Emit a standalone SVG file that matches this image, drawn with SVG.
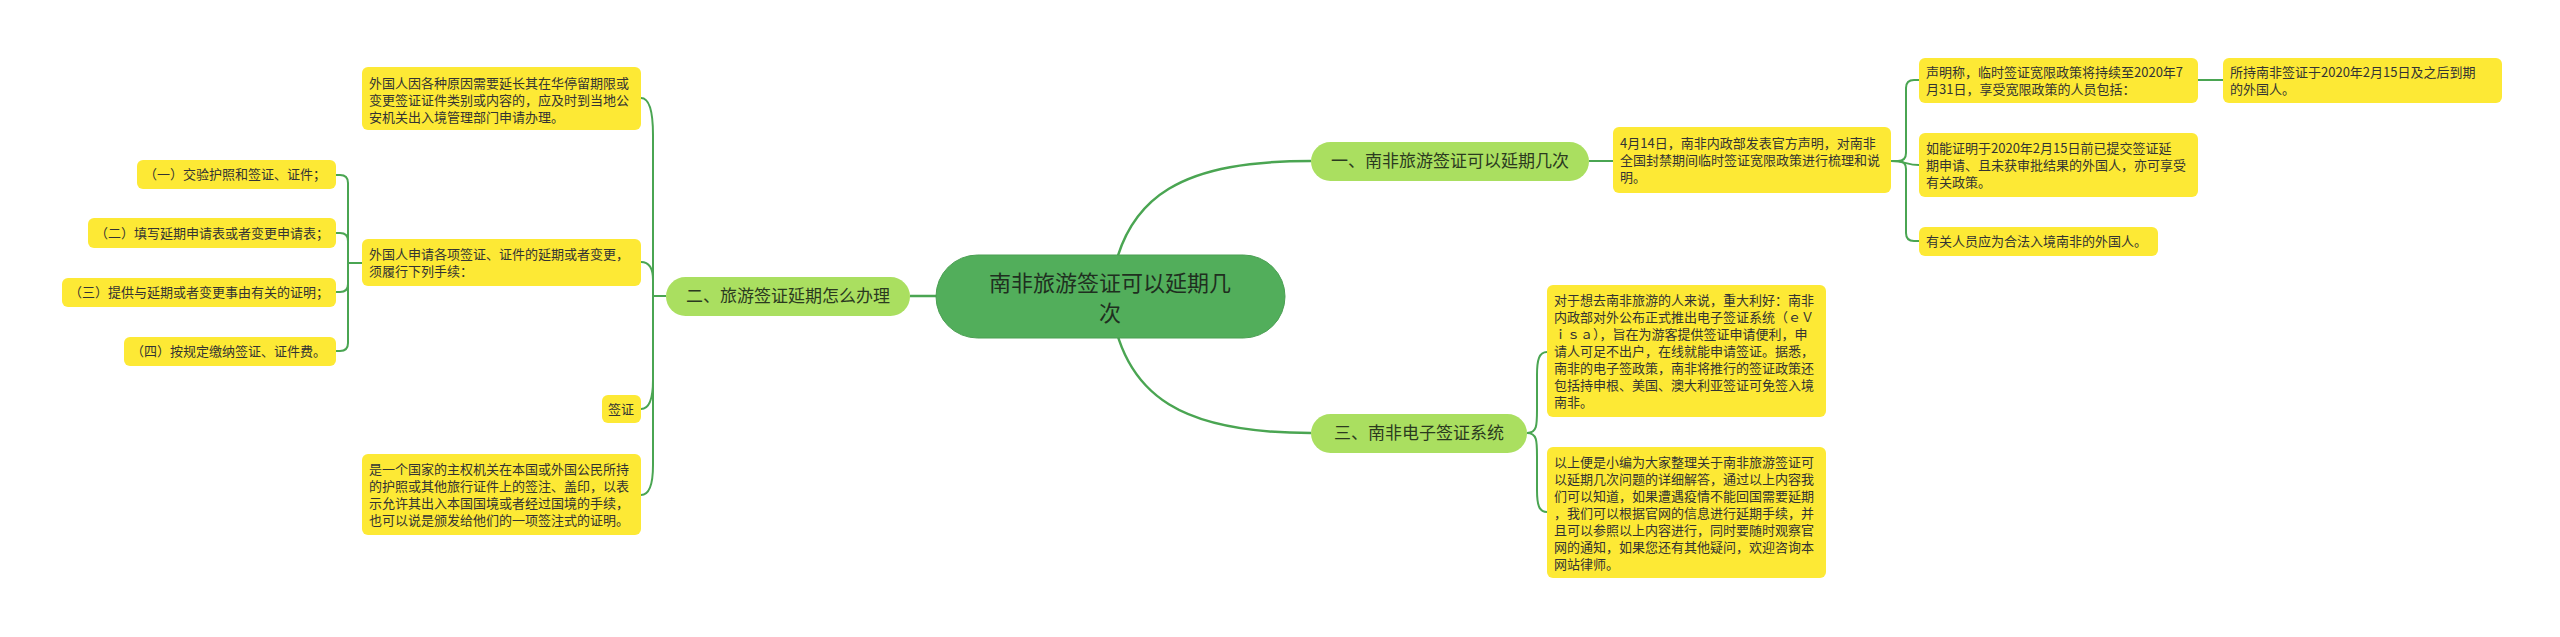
<svg xmlns="http://www.w3.org/2000/svg" width="2560" height="637" viewBox="0 0 2560 637">
<style>
.c{fill:none;stroke:#4aa552;stroke-width:2}
.cr{fill:none;stroke:#4aa552;stroke-width:2.5}
.y{fill:#fde935}
.t{font-family:"Noto Sans CJK SC","Noto Sans",sans-serif;font-size:13px;fill:#333}
.b{fill:#aadf60}
.bt{font-family:"Noto Sans CJK SC","Noto Sans",sans-serif;font-size:17px;fill:#2b3a1f;text-anchor:middle}
.rt{font-family:"Noto Sans CJK SC","Noto Sans",sans-serif;font-size:22px;fill:#1f2f1f;text-anchor:middle}
</style>
<rect width="2560" height="637" fill="#fff"/>
<g id="connectors">
<path class="cr" d="M1110,296 C1120,190 1190,161 1311,161"/>
<path class="cr" d="M1110,296 C1120,402 1190,433 1311,433"/>
<path class="cr" d="M1110,296 H910"/>
<path class="c" d="M1589,161 H1613"/>
<path class="c" d="M1891,161 H1898 Q1906,161 1906,153 V88 Q1906,80 1914,80 H1919"/>
<path class="c" d="M1891,161 C1906,161 1906,165 1919,165"/>
<path class="c" d="M1891,161 H1898 Q1906,161 1906,169 V233 Q1906,241 1914,241 H1919"/>
<path class="c" d="M2198,80 H2223"/>
<path class="c" d="M1527,433 C1537,433 1537,425 1537,410 V375 C1537,360 1539,352 1547,352"/>
<path class="c" d="M1527,433 C1537,433 1537,441 1537,456 V490 C1537,505 1539,512 1547,512"/>
<path class="c" d="M666,296 H653 V135 C653,112 650,98 641,98"/>
<path class="c" d="M666,296 H653 V280 C653,270 650,262 641,262"/>
<path class="c" d="M666,296 H653 V380 C653,398 650,409 641,409"/>
<path class="c" d="M666,296 H653 V465 C653,483 650,495 641,495"/>
<path class="c" d="M362,263 H348 V183 Q348,175 340,175 H336"/>
<path class="c" d="M362,263 H348 V241 Q348,233 340,233 H336"/>
<path class="c" d="M362,263 H348 V284 Q348,292 340,292 H336"/>
<path class="c" d="M362,263 H348 V343 Q348,351 340,351 H336"/>
</g>
<g id="root">
<rect x="936" y="255" width="349" height="83" rx="41.5" fill="#52ae5b" stroke="#4a9f52" stroke-width="1"/>
<text class="rt" x="1110" y="291">南非旅游签证可以延期几</text>
<text class="rt" x="1110" y="321">次</text>
</g>
<g id="b1">
<rect class="b" x="1311" y="142" width="278" height="39" rx="19.5"/>
<text class="bt" x="1450" y="167">一、南非旅游签证可以延期几次</text>
</g>
<g id="b2">
<rect class="b" x="666" y="277" width="244" height="39" rx="19.5"/>
<text class="bt" x="788" y="302">二、旅游签证延期怎么办理</text>
</g>
<g id="b3">
<rect class="b" x="1311" y="414" width="216" height="39" rx="19.5"/>
<text class="bt" x="1419" y="439">三、南非电子签证系统</text>
</g>
<g id="n414">
<rect class="y" x="1613" y="127" width="278" height="66" rx="6"/>
<text class="t" x="1620" y="147.5">4月14日，南非内政部发表官方声明，对南非</text>
<text class="t" x="1620" y="164.5">全国封禁期间临时签证宽限政策进行梳理和说</text>
<text class="t" x="1620" y="181.5">明。</text>
</g>
<g id="c1">
<rect class="y" x="1919" y="58" width="279" height="45" rx="6"/>
<text class="t" x="1926" y="76.5">声明称，临时签证宽限政策将持续至2020年7</text>
<text class="t" x="1926" y="93.5">月31日，享受宽限政策的人员包括：</text>
</g>
<g id="gc1">
<rect class="y" x="2223" y="58" width="279" height="45" rx="6"/>
<text class="t" x="2230" y="76.5">所持南非签证于2020年2月15日及之后到期</text>
<text class="t" x="2230" y="93.5">的外国人。</text>
</g>
<g id="c2">
<rect class="y" x="1919" y="133" width="279" height="64" rx="6"/>
<text class="t" x="1926" y="152.5">如能证明于2020年2月15日前已提交签证延</text>
<text class="t" x="1926" y="169.5">期申请、且未获审批结果的外国人，亦可享受</text>
<text class="t" x="1926" y="186.5">有关政策。</text>
</g>
<g id="c3">
<rect class="y" x="1919" y="227" width="239" height="29" rx="6"/>
<text class="t" x="1926" y="246">有关人员应为合法入境南非的外国人。</text>
</g>
<g id="a1">
<rect class="y" x="1547" y="285" width="279" height="132" rx="6"/>
<text class="t" x="1554" y="304.5">对于想去南非旅游的人来说，重大利好：南非</text>
<text class="t" x="1554" y="321.5">内政部对外公布正式推出电子签证系统（ｅＶ</text>
<text class="t" x="1554" y="338.5">ｉｓａ），旨在为游客提供签证申请便利，申</text>
<text class="t" x="1554" y="355.5">请人可足不出户，在线就能申请签证。据悉，</text>
<text class="t" x="1554" y="372.5">南非的电子签政策，南非将推行的签证政策还</text>
<text class="t" x="1554" y="389.5">包括持申根、美国、澳大利亚签证可免签入境</text>
<text class="t" x="1554" y="406.5">南非。</text>
</g>
<g id="a2">
<rect class="y" x="1547" y="447" width="279" height="131" rx="6"/>
<text class="t" x="1554" y="466.5">以上便是小编为大家整理关于南非旅游签证可</text>
<text class="t" x="1554" y="483.5">以延期几次问题的详细解答，通过以上内容我</text>
<text class="t" x="1554" y="500.5">们可以知道，如果遭遇疫情不能回国需要延期</text>
<text class="t" x="1554" y="517.5">，我们可以根据官网的信息进行延期手续，并</text>
<text class="t" x="1554" y="534.5">且可以参照以上内容进行，同时要随时观察官</text>
<text class="t" x="1554" y="551.5">网的通知，如果您还有其他疑问，欢迎咨询本</text>
<text class="t" x="1554" y="568.5">网站律师。</text>
</g>
<g id="l1">
<rect class="y" x="362" y="67" width="279" height="63" rx="6"/>
<text class="t" x="369" y="87.5">外国人因各种原因需要延长其在华停留期限或</text>
<text class="t" x="369" y="104.5">变更签证证件类别或内容的，应及时到当地公</text>
<text class="t" x="369" y="121.5">安机关出入境管理部门申请办理。</text>
</g>
<g id="l2">
<rect class="y" x="362" y="239" width="279" height="47" rx="6"/>
<text class="t" x="369" y="258.5">外国人申请各项签证、证件的延期或者变更，</text>
<text class="t" x="369" y="275.5">须履行下列手续：</text>
</g>
<g id="l3">
<rect class="y" x="602" y="395" width="39" height="28" rx="6"/>
<text class="t" x="608" y="413.5">签证</text>
</g>
<g id="l4">
<rect class="y" x="362" y="454" width="279" height="81" rx="6"/>
<text class="t" x="369" y="473.5">是一个国家的主权机关在本国或外国公民所持</text>
<text class="t" x="369" y="490.5">的护照或其他旅行证件上的签注、盖印，以表</text>
<text class="t" x="369" y="507.5">示允许其出入本国国境或者经过国境的手续，</text>
<text class="t" x="369" y="524.5">也可以说是颁发给他们的一项签注式的证明。</text>
</g>
<g id="g1">
<rect class="y" x="137" y="160" width="199" height="29" rx="6"/>
<text class="t" x="144" y="179">（一）交验护照和签证、证件；</text>
</g>
<g id="g2">
<rect class="y" x="88" y="218" width="248" height="30" rx="6"/>
<text class="t" x="95" y="237.5">（二）填写延期申请表或者变更申请表；</text>
</g>
<g id="g3">
<rect class="y" x="62" y="278" width="274" height="29" rx="6"/>
<text class="t" x="69" y="297">（三）提供与延期或者变更事由有关的证明；</text>
</g>
<g id="g4">
<rect class="y" x="124" y="337" width="212" height="29" rx="6"/>
<text class="t" x="131" y="356">（四）按规定缴纳签证、证件费。</text>
</g>
</svg>
